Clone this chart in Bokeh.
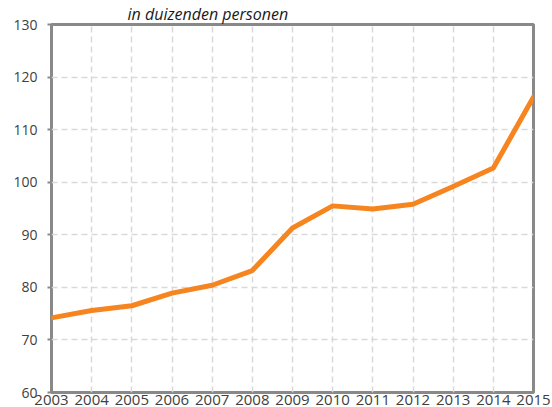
from bokeh.plotting import figure
from bokeh.models import Range1d, FixedTicker
from bokeh.embed import file_html
from bokeh.resources import INLINE

years = [2003, 2004, 2005, 2006, 2007, 2008, 2009, 2010, 2011, 2012, 2013, 2014, 2015]
values = [74.2, 75.6, 76.5, 78.9, 80.4, 83.2, 91.3, 95.5, 94.9, 95.8, 99.2, 102.7, 116.2]
y_ticks = [60, 70, 80, 90, 100, 110, 120, 130]
title_text = "in duizenden personen"

FONT = "Open Sans"
GRID = "#d9d9d9"
FRAME = "#898989"
TEXT = "#404040"

p = figure(width=552, height=407, output_backend="svg", toolbar_location=None,
           x_range=Range1d(years[0], years[-1]), y_range=Range1d(y_ticks[0], y_ticks[-1]),
           min_border_left=51, min_border_right=19, min_border_top=10, min_border_bottom=15,
           background_fill_color="white", border_fill_color="white")

p.title.text = title_text
p.title.text_font = FONT
p.title.text_font_size = "16px"
p.title.text_font_style = "italic"
p.title.text_color = "#1a1a1a"
p.title.align = "left"
p.title.offset = 76
p.title.standoff = 0

p.outline_line_color = FRAME
p.outline_line_width = 3

p.xaxis.ticker = FixedTicker(ticks=years)
p.yaxis.ticker = FixedTicker(ticks=y_ticks)
for ax in (p.xaxis[0], p.yaxis[0]):
    ax.axis_line_color = None
    ax.minor_tick_line_color = None
    ax.major_tick_in = 0
    ax.major_label_text_font = FONT
    ax.major_label_text_color = TEXT
p.xaxis.major_tick_out = 0
p.xaxis.major_tick_line_color = None
p.xaxis.major_label_standoff = 2
p.xaxis.major_label_text_font_size = "15px"
p.yaxis.major_tick_out = 4
p.yaxis.major_tick_line_color = FRAME
p.yaxis.major_tick_line_width = 2
p.yaxis.major_label_standoff = 10
p.yaxis.major_label_text_font_size = "14px"

for g in (p.xgrid[0], p.ygrid[0]):
    g.grid_line_color = GRID
    g.grid_line_width = 1.5
    g.grid_line_dash = "6 4"

p.line(years, values, line_color="#f6851f", line_width=5, line_join="round", line_cap="round")

open("out.html", "w").write(file_html(p, INLINE))
